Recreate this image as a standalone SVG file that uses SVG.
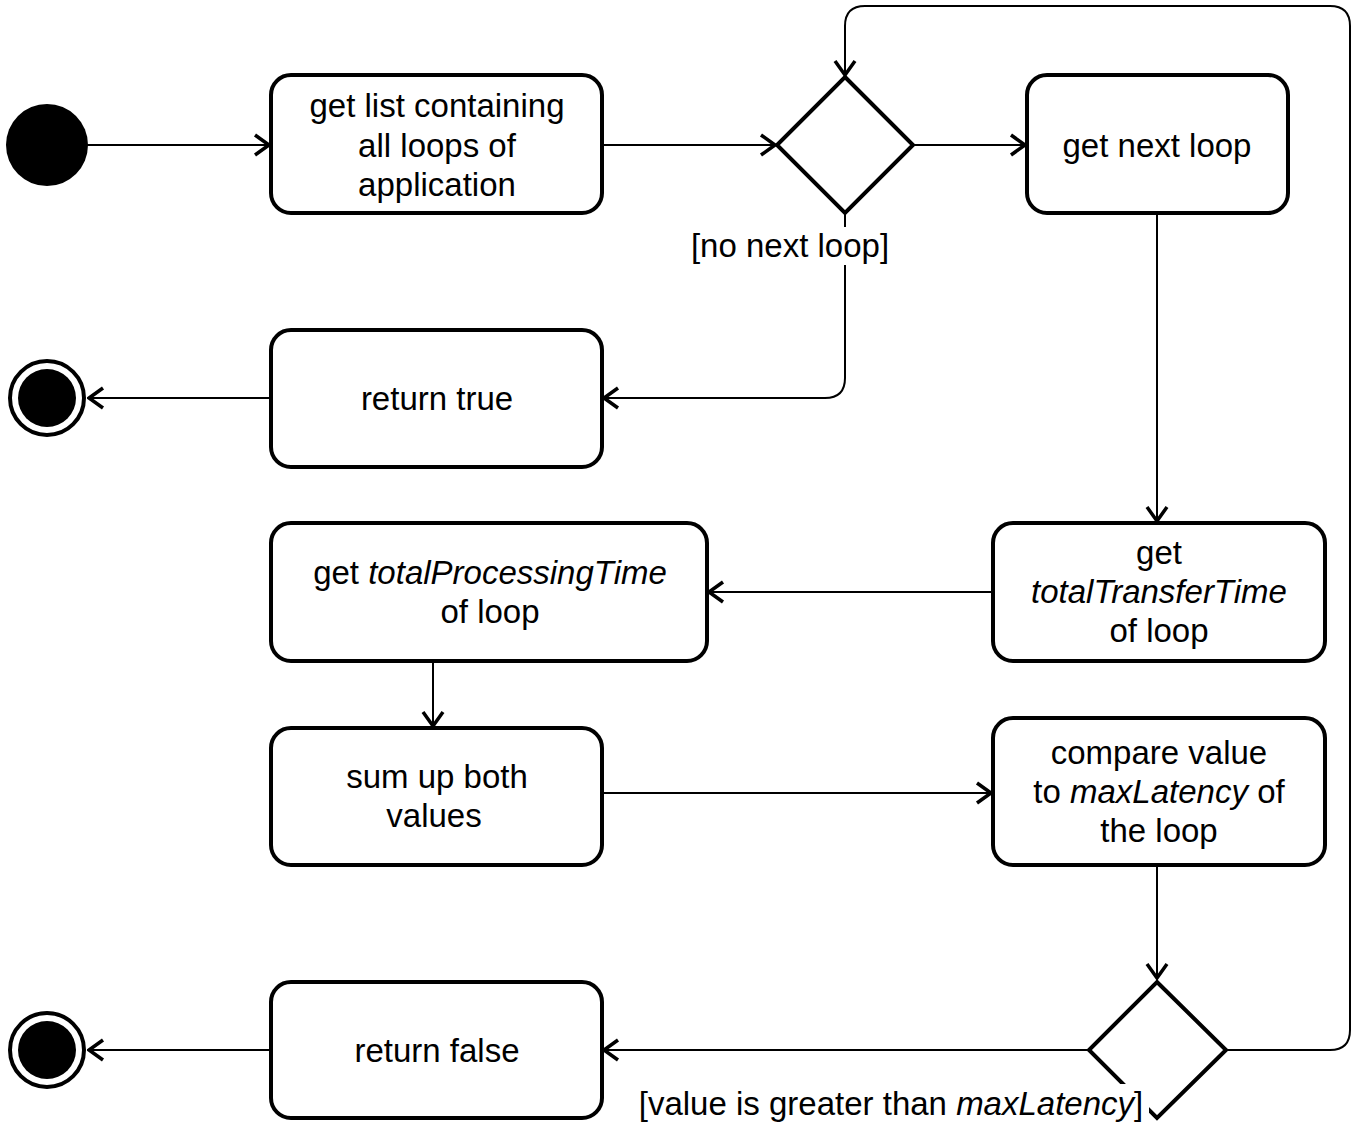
<svg xmlns="http://www.w3.org/2000/svg" width="1357" height="1132" viewBox="0 0 1357 1132">
<style>
.box{fill:#fff;stroke:#000;stroke-width:4}
.dia{fill:#fff;stroke:#000;stroke-width:4;stroke-linejoin:miter}
.t{font-family:"Liberation Sans",Arial,sans-serif;font-size:33px;fill:#000;text-anchor:middle}
.i{font-style:italic}
.c{fill:none;stroke:#000;stroke-width:2}
</style>
<defs>
<marker id="arr" viewBox="0 0 18 24" refX="16" refY="12" markerWidth="18" markerHeight="24" markerUnits="userSpaceOnUse" orient="auto">
<path d="M2,2 L16,12 L2,22" fill="none" stroke="#000" stroke-width="3.5"/>
</marker>
</defs>
<g id="connectors">
<path class="c" d="M87,145 H269" marker-end="url(#arr)"/>
<path class="c" d="M602,145 H775" marker-end="url(#arr)"/>
<path class="c" d="M913,145 H1025" marker-end="url(#arr)"/>
<path class="c" d="M845,213 V378 Q845,398 825,398 H604" marker-end="url(#arr)"/>
<path class="c" d="M271,398 H89" marker-end="url(#arr)"/>
<path class="c" d="M1157,213 V521" marker-end="url(#arr)"/>
<path class="c" d="M993,592 H709" marker-end="url(#arr)"/>
<path class="c" d="M433,661 V726" marker-end="url(#arr)"/>
<path class="c" d="M602,793 H991" marker-end="url(#arr)"/>
<path class="c" d="M1157,865 V978" marker-end="url(#arr)"/>
<path class="c" d="M1089,1050 H604" marker-end="url(#arr)"/>
<path class="c" d="M271,1050 H89" marker-end="url(#arr)"/>
<path class="c" d="M1226,1050 H1330 Q1350,1050 1350,1030 V26 Q1350,6 1330,6 H865 Q845,6 845,26 V75" marker-end="url(#arr)"/>
</g>
<g id="start"><circle cx="47" cy="145" r="41" fill="#000"/></g>
<g id="n1"><rect class="box" x="271" y="75" width="331" height="138" rx="20"/>
<text class="t" x="437" y="117">get list containing</text>
<text class="t" x="437" y="157">all loops of</text>
<text class="t" x="437" y="196">application</text></g>
<g id="d1"><polygon class="dia" points="845,77 913,145 845,213 777,145"/></g>
<g id="n2"><rect class="box" x="1027" y="75" width="261" height="138" rx="20"/>
<text class="t" x="1157" y="157">get next loop</text></g>
<g id="lbl1"><rect x="688" y="227" width="204" height="38" fill="#fff"/>
<text class="t" x="790" y="257">[no next loop]</text></g>
<g id="n3"><rect class="box" x="271" y="330" width="331" height="137" rx="20"/>
<text class="t" x="437" y="410">return true</text></g>
<g id="end1"><circle cx="47" cy="398" r="37" fill="#fff" stroke="#000" stroke-width="4"/><circle cx="47" cy="398" r="29" fill="#000"/></g>
<g id="n4"><rect class="box" x="993" y="523" width="332" height="138" rx="20"/>
<text class="t" x="1159" y="564">get</text>
<text class="t i" x="1159" y="603">totalTransferTime</text>
<text class="t" x="1159" y="642">of loop</text></g>
<g id="n5"><rect class="box" x="271" y="523" width="436" height="138" rx="20"/>
<text class="t" x="490" y="584">get <tspan class="i">totalProcessingTime</tspan></text>
<text class="t" x="490" y="623">of loop</text></g>
<g id="n6"><rect class="box" x="271" y="728" width="331" height="137" rx="20"/>
<text class="t" x="437" y="788">sum up both</text>
<text class="t" x="434" y="827">values</text></g>
<g id="n7"><rect class="box" x="993" y="718" width="332" height="147" rx="20"/>
<text class="t" x="1159" y="764">compare value</text>
<text class="t" x="1159" y="803">to <tspan class="i">maxLatency</tspan> of</text>
<text class="t" x="1159" y="842">the loop</text></g>
<g id="d2"><polygon class="dia" points="1157,982 1226,1050 1157,1118 1089,1050"/></g>
<g id="n8"><rect class="box" x="271" y="982" width="331" height="136" rx="20"/>
<text class="t" x="437" y="1062">return false</text></g>
<g id="end2"><circle cx="47" cy="1050" r="37" fill="#fff" stroke="#000" stroke-width="4"/><circle cx="47" cy="1050" r="29" fill="#000"/></g>
<g id="lbl2"><rect x="634" y="1084" width="515" height="48" fill="#fff"/>
<text class="t" x="891" y="1115">[value is greater than <tspan class="i">maxLatency</tspan>]</text></g>
</svg>
